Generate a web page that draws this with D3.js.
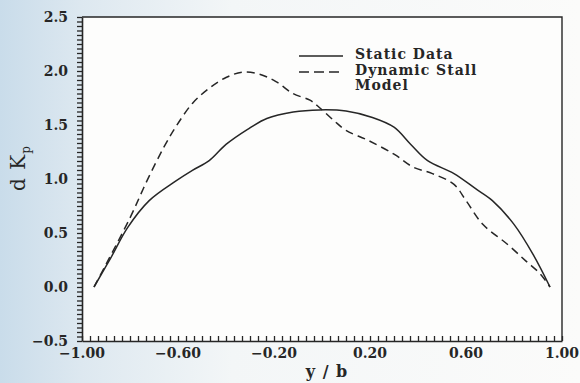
<!DOCTYPE html>
<html lang="en">
  <head>
    <meta charset="utf-8">
    <title>dKp vs y/b</title>
    <style type="text/css">
      body { margin: 0; background: #ffffff; }
      svg { display: block; }
    </style>
  </head>
  <body>
    <script type="text/javascript" src="https://d3js.org/d3.v7.min.js"></script>
    <script type="text/javascript">
    // ===================================
    // DATA
    // ===================================
      var staticX = [-0.95, -0.88, -0.81, -0.72, -0.61, -0.54, -0.47, -0.40, -0.31, -0.23, -0.12, -0.01, 0.10, 0.21, 0.30, 0.37, 0.44, 0.55, 0.64, 0.71, 0.80, 0.88, 0.95];
      var staticY = [0.00, 0.27, 0.55, 0.80, 0.98, 1.08, 1.17, 1.32, 1.46, 1.56, 1.62, 1.64, 1.63, 1.57, 1.48, 1.32, 1.17, 1.05, 0.91, 0.80, 0.58, 0.30, 0.00];

      var dynamicX = [-0.95, -0.90, -0.80, -0.73, -0.66, -0.61, -0.54, -0.47, -0.40, -0.33, -0.26, -0.19, -0.12, -0.05, -0.01, 0.05, 0.10, 0.19, 0.30, 0.38, 0.46, 0.55, 0.60, 0.67, 0.77, 0.85, 0.91, 0.95];
      var dynamicY = [0.00, 0.21, 0.64, 0.98, 1.29, 1.48, 1.70, 1.84, 1.94, 1.99, 1.97, 1.90, 1.79, 1.73, 1.66, 1.54, 1.45, 1.36, 1.23, 1.11, 1.05, 0.95, 0.80, 0.58, 0.40, 0.24, 0.12, 0.00];

      var xTickValues = [-1.0, -0.6, -0.2, 0.2, 0.6, 1.0];
      var xTickLabels = ["\u22121.00", "\u22120.60", "\u22120.20", "0.20", "0.60", "1.00"];
      var yTickValues = [2.5, 2.0, 1.5, 1.0, 0.5, 0.0, -0.5];
      var yTickLabels = ["2.5", "2.0", "1.5", "1.0", "0.5", "0.0", "\u22120.5"];

      var legendLabels = [["Static Data"], ["Dynamic Stall", "Model"]];

    // ===================================
    // SETUP
    // ===================================
      var w = 580;
      var h = 383;
      var plotL = 82, plotR = 562, plotT = 17, plotB = 341;
      var ink = "#262626";
      var font = "'DejaVu Serif', 'Liberation Serif', serif";

      var svg = d3.select("body")
        .append("svg")
        .attr("width", w)
        .attr("height", h);

      // paper tint, bluish toward the left edge like the scan
      var grad = svg.append("defs").append("linearGradient")
        .attr("id", "paper")
        .attr("x1", 0).attr("x2", 1).attr("y1", 0).attr("y2", 0);
      grad.append("stop").attr("offset", "0%").attr("stop-color", "#c9dcea");
      grad.append("stop").attr("offset", "14%").attr("stop-color", "#dde8f0");
      grad.append("stop").attr("offset", "40%").attr("stop-color", "#f3f6f7");
      grad.append("stop").attr("offset", "100%").attr("stop-color", "#fbfbfa");

      svg.append("rect")
        .attr("width", w).attr("height", h)
        .attr("fill", "url(#paper)");

      svg.append("rect")
        .attr("x", plotL).attr("y", plotT)
        .attr("width", plotR - plotL).attr("height", plotB - plotT)
        .attr("fill", "#fdfdfc");

      var x = d3.scaleLinear().domain([-1, 1]).range([plotL, plotR]);
      var y = d3.scaleLinear().domain([-0.5, 2.5]).range([plotB, plotT]);

    // ===================================
    // AXES
    // ===================================
      var xMinor = d3.range(0, 61).map(function(i) { return -1 + i / 30; });
      var yMinor = d3.range(0, 73).map(function(i) { return -0.5 + i / 24; });

      var xAxis = d3.axisBottom(x)
        .tickValues(xMinor)
        .tickSizeInner(-5)
        .tickSizeOuter(0)
        .tickFormat("");

      var yAxis = d3.axisLeft(y)
        .tickValues(yMinor)
        .tickSizeInner(5)
        .tickSizeOuter(0)
        .tickFormat("");

      var gx = svg.append("g")
        .attr("transform", "translate(0," + plotB + ")")
        .call(xAxis);
      var gy = svg.append("g")
        .attr("transform", "translate(" + plotL + ",0)")
        .call(yAxis);

      [gx, gy].forEach(function(g) {
        g.selectAll("path").attr("stroke", ink).attr("stroke-width", 1.6);
        g.selectAll("line").attr("stroke", ink).attr("stroke-width", 1.3);
      });

      // top and right frame
      svg.append("path")
        .attr("d", "M" + plotL + "," + plotT + "H" + plotR + "V" + plotB)
        .attr("fill", "none")
        .attr("stroke", ink)
        .attr("stroke-width", 1.4);

      // major tick labels
      svg.selectAll(".xlab")
        .data(xTickValues)
        .enter()
        .append("text")
        .attr("class", "xlab")
        .attr("x", function(d) { return x(d); })
        .attr("y", plotB + 17)
        .attr("text-anchor", "middle")
        .attr("font-family", font)
        .attr("font-weight", "bold")
        .attr("font-size", 14)
        .attr("fill", ink)
        .text(function(d, i) { return xTickLabels[i]; });

      svg.selectAll(".ylab")
        .data(yTickValues)
        .enter()
        .append("text")
        .attr("class", "ylab")
        .attr("x", plotL - 14)
        .attr("y", function(d) { return y(d) + 5; })
        .attr("text-anchor", "end")
        .attr("font-family", font)
        .attr("font-weight", "bold")
        .attr("font-size", 14)
        .attr("fill", ink)
        .text(function(d, i) { return yTickLabels[i]; });

      // axis titles
      svg.append("text")
        .attr("x", 327)
        .attr("y", 377)
        .attr("text-anchor", "middle")
        .attr("font-family", font)
        .attr("font-weight", "bold")
        .attr("font-size", 16)
        .attr("letter-spacing", 1)
        .attr("fill", ink)
        .text("y / b");

      var ylab = svg.append("text")
        .attr("transform", "translate(25,168) rotate(-90)")
        .attr("text-anchor", "middle")
        .attr("font-family", font)
        .attr("font-size", 20)
        .attr("letter-spacing", 1)
        .attr("fill", ink);
      ylab.append("tspan").text("d K");
      ylab.append("tspan").attr("dy", 5).attr("font-size", 12).text("p");

    // ===================================
    // CURVES
    // ===================================
      var line = d3.line()
        .x(function(d) { return x(d[0]); })
        .y(function(d) { return y(d[1]); })
        .curve(d3.curveCatmullRom);

      svg.append("path")
        .datum(d3.zip(staticX, staticY))
        .attr("d", line)
        .attr("fill", "none")
        .attr("stroke", ink)
        .attr("stroke-width", 1.5);

      svg.append("path")
        .datum(d3.zip(dynamicX, dynamicY))
        .attr("d", line)
        .attr("fill", "none")
        .attr("stroke", ink)
        .attr("stroke-width", 1.5)
        .attr("stroke-dasharray", "8,5");

    // ===================================
    // LEGEND
    // ===================================
      var legend = svg.append("g");
      legendLabels.forEach(function(lines, i) {
        var ly = 56 + i * 16;
        legend.append("line")
          .attr("x1", 299).attr("x2", 343)
          .attr("y1", ly).attr("y2", ly)
          .attr("stroke", ink)
          .attr("stroke-width", 1.5)
          .attr("stroke-dasharray", i === 0 ? null : "10,5");
        lines.forEach(function(t, j) {
          legend.append("text")
            .attr("x", 355)
            .attr("y", ly + 3 + j * 15)
            .attr("font-family", font)
            .attr("font-weight", "bold")
            .attr("font-size", 14)
            .attr("letter-spacing", 1)
            .attr("fill", ink)
            .text(t);
        });
      });
    </script>
  </body>
</html>
